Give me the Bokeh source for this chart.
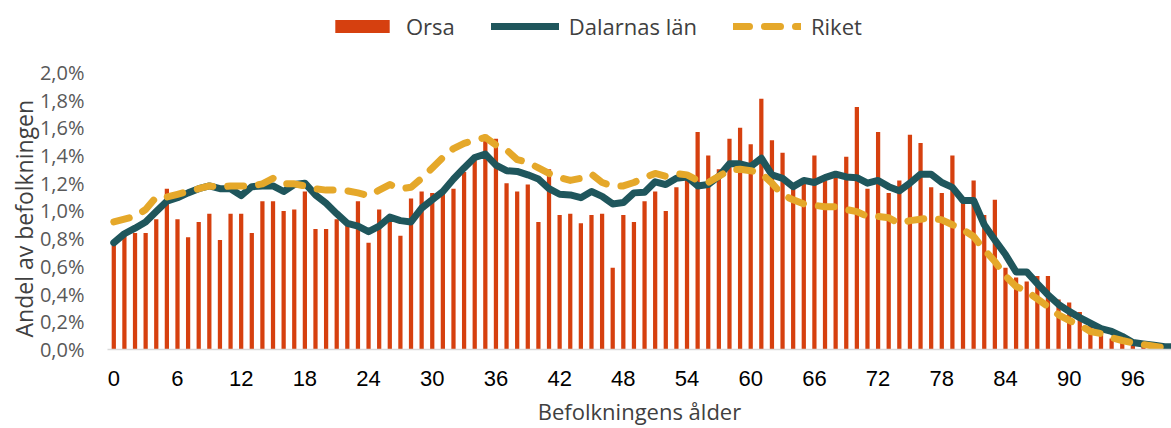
from bokeh.plotting import figure
from bokeh.models import (FixedTicker, CustomJSTickFormatter, Legend, LegendItem,
                          ColumnDataSource, Title)
from bokeh.embed import file_html
from bokeh.resources import INLINE

ages = list(range(0, 101))

orsa = [0.76, 0.82, 0.84, 0.84, 0.94, 1.16, 0.94, 0.81, 0.92, 0.98,
        0.79, 0.98, 0.98, 0.84, 1.07, 1.07, 1.00, 1.01, 1.14, 0.87,
        0.87, 0.94, 0.90, 1.07, 0.77, 1.01, 0.93, 0.82, 1.09, 1.14,
        1.13, 1.14, 1.16, 1.28, 1.40, 1.55, 1.52, 1.20, 1.14, 1.19,
        0.92, 1.30, 0.97, 0.98, 0.91, 0.97, 0.98, 0.59, 0.97, 0.92,
        1.07, 1.14, 1.00, 1.17, 1.24, 1.57, 1.40, 1.30, 1.52, 1.60,
        1.48, 1.81, 1.51, 1.42, 1.18, 1.20, 1.40, 1.22, 1.28, 1.39,
        1.75, 1.16, 1.57, 1.13, 1.22, 1.55, 1.49, 1.17, 1.13, 1.40,
        1.06, 1.22, 0.97, 1.08, 0.59, 0.52, 0.49, 0.53, 0.53, 0.36,
        0.34, 0.27, 0.18, 0.14, 0.08, 0.07, 0.03, 0.02, 0.01, 0.01,
        0.00]

dalarna = [0.77, 0.835, 0.875, 0.92, 0.995, 1.07, 1.095, 1.13, 1.16, 1.18,
           1.16, 1.16, 1.11, 1.175, 1.18, 1.18, 1.14, 1.19, 1.20, 1.115,
           1.055, 0.98, 0.91, 0.89, 0.85, 0.89, 0.955, 0.93, 0.92, 1.02,
           1.08, 1.14, 1.23, 1.31, 1.385, 1.41, 1.33, 1.29, 1.285, 1.26,
           1.23, 1.16, 1.12, 1.115, 1.095, 1.14, 1.105, 1.05, 1.06, 1.13,
           1.135, 1.21, 1.19, 1.235, 1.245, 1.18, 1.19, 1.25, 1.34, 1.34,
           1.32, 1.38, 1.26, 1.235, 1.175, 1.22, 1.205, 1.24, 1.265, 1.245,
           1.24, 1.20, 1.22, 1.175, 1.145, 1.20, 1.265, 1.265, 1.205, 1.17,
           1.075, 1.075, 0.90, 0.79, 0.685, 0.56, 0.56, 0.475, 0.395, 0.325,
           0.275, 0.23, 0.19, 0.15, 0.13, 0.095, 0.05, 0.04, 0.03, 0.02,
           0.02]

riket = [0.92, 0.94, 0.96, 1.01, 1.10, 1.10, 1.12, 1.14, 1.16, 1.18,
         1.17, 1.18, 1.18, 1.18, 1.195, 1.235, 1.195, 1.195, 1.18, 1.16,
         1.15, 1.15, 1.145, 1.13, 1.11, 1.15, 1.19, 1.16, 1.17, 1.235,
         1.31, 1.385, 1.45, 1.487, 1.51, 1.53, 1.475, 1.44, 1.37, 1.35,
         1.31, 1.27, 1.24, 1.22, 1.235, 1.265, 1.205, 1.18, 1.18, 1.205,
         1.24, 1.27, 1.25, 1.27, 1.26, 1.22, 1.205, 1.25, 1.295, 1.30,
         1.29, 1.27, 1.20, 1.115, 1.08, 1.05, 1.04, 1.03, 1.03, 1.01,
         0.995, 0.96, 0.96, 0.95, 0.91, 0.93, 0.94, 0.95, 0.935, 0.90,
         0.865, 0.815, 0.72, 0.635, 0.53, 0.455, 0.42, 0.365, 0.31, 0.25,
         0.21, 0.175, 0.13, 0.115, 0.085, 0.065, 0.048, 0.036, 0.024, 0.012,
         0.005]

x_ticks = list(range(0, 97, 6))
y_ticks = [0.0, 0.2, 0.4, 0.6, 0.8, 1.0, 1.2, 1.4, 1.6, 1.8, 2.0]

ORSA_C = "#D6400F"
DAL_C = "#1F565C"
RIK_C = "#E5A82A"

src = ColumnDataSource(dict(age=ages, orsa=orsa, dalarna=dalarna, riket=riket))

# frame spans the whole top (legend lives inside it); axis ticks stop at 2,0%
p = figure(width=1171, height=428, x_range=(-0.593, 99.64), y_range=(0, 2.518),
           output_backend="svg", toolbar_location=None,
           min_border_left=107, min_border_right=0,
           min_border_top=0, min_border_bottom=78)
p.background_fill_color = "white"
p.border_fill_color = "white"
p.outline_line_color = None
p.xgrid.visible = False
p.ygrid.visible = False

bars = p.vbar(x="age", top="orsa", width=0.4, source=src,
              fill_color=ORSA_C, line_color=None)
dal = p.line("age", "dalarna", source=src, line_color=DAL_C, line_width=7,
             line_join="round", line_cap="round")
rik = p.line("age", "riket", source=src, line_color=RIK_C, line_width=7,
             line_dash="16 15", line_join="round", line_cap="round")

# x axis
xa = p.xaxis[0]
xa.ticker = FixedTicker(ticks=x_ticks)
xa.axis_line_color = "#D9D9D9"
xa.axis_line_width = 1.5
xa.major_tick_line_color = None
xa.minor_tick_line_color = None
xa.major_label_text_font = "Liberation Sans"
xa.major_label_text_font_size = "22px"
xa.major_label_text_color = "#000000"
xa.major_label_standoff = 15
xa.axis_label = "Befolkningens ålder"
xa.axis_label_text_font = "Open Sans"
xa.axis_label_text_font_size = "22px"
xa.axis_label_text_font_style = "normal"
xa.axis_label_text_color = "#404040"
xa.axis_label_standoff = 7

# y axis
ya = p.yaxis[0]
ya.ticker = FixedTicker(ticks=y_ticks)
ya.formatter = CustomJSTickFormatter(
    code="return tick.toFixed(1).replace('.', ',') + '%';")
ya.axis_line_color = None
ya.major_tick_line_color = None
ya.minor_tick_line_color = None
ya.major_label_text_font = "Open Sans"
ya.major_label_text_font_size = "20px"
ya.major_label_text_color = "#595959"
ya.major_label_standoff = 17

ytitle = Title(text="Andel av befolkningen", align="left", offset=12,
               standoff=-6,
               text_font="Open Sans", text_font_size="23px",
               text_font_style="normal", text_color="#404040")
p.add_layout(ytitle, "left")

legend = Legend(items=[LegendItem(label="Orsa", renderers=[bars]),
                       LegendItem(label="Dalarnas län", renderers=[dal]),
                       LegendItem(label="Riket", renderers=[rik])],
                location=(221, 308), orientation="horizontal",
                glyph_width=68, glyph_height=16, label_standoff=10,
                spacing=36, padding=0, margin=0,
                border_line_color=None, background_fill_alpha=0,
                label_text_font="Open Sans", label_text_font_size="22px",
                label_text_color="#404040")
p.add_layout(legend)

open("out.html", "w").write(file_html(p, INLINE))
